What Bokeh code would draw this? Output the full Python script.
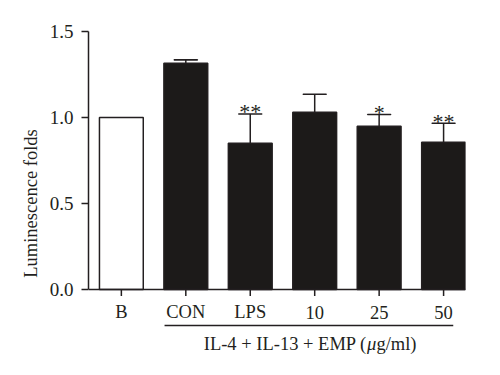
from bokeh.plotting import figure
from bokeh.models import Range1d, SingleIntervalTicker, NumeralTickFormatter, ColumnDataSource
from bokeh.core.properties import value
from bokeh.embed import file_html
from bokeh.resources import INLINE

categories = ["B", "CON", "LPS", "10", "25", "50"]
means = [1.0, 1.316, 0.851, 1.031, 0.949, 0.856]
errors = [0.0, 0.019, 0.170, 0.104, 0.068, 0.111]
stars = ["", "", "**", "", "*", "**"]
fills = ["white", "#1c1a19", "#1c1a19", "#1c1a19", "#1c1a19", "#1c1a19"]
group_label_parts = ["IL-4 + IL-13 + EMP (", "\u03bc", "g/ml)"]

FONT = "Liberation Serif"
INK = "#231f20"
FS = "18.5px"

xs = list(range(len(categories)))
upper = [m + e for m, e in zip(means, errors)]
src = ColumnDataSource(dict(x=xs, top=means, upper=upper, fill=fills, stars=stars, cat=categories))

p = figure(width=500, height=375, output_backend="svg", toolbar_location=None,
           x_axis_type=None, x_range=Range1d(-0.51, 5.34), y_range=Range1d(-0.5, 1.5),
           min_border_left=88, min_border_right=35, min_border_top=31, min_border_bottom=0)
p.outline_line_color = None
p.grid.visible = False
p.background_fill_color = "white"

# bars
p.vbar(x="x", top="top", bottom=0, width=0.68, source=src, fill_color="fill",
       line_color=INK, line_width=1.5)

# error bars (upper only)
err_src = ColumnDataSource(dict(x=[x for x, e in zip(xs, errors) if e > 0],
                                top=[m for m, e in zip(means, errors) if e > 0],
                                upper=[u for u, e in zip(upper, errors) if e > 0]))
p.segment(x0="x", y0="top", x1="x", y1="upper", source=err_src, line_color=INK, line_width=1.5)
p.rect(x="x", y="upper", width=0.36, height=0.0001, source=err_src, line_color=INK, line_width=1.5,
       fill_color=None)

# significance stars
p.text(x="x", y="upper", text="stars", source=src, text_align="center", text_baseline="middle",
       y_offset=-2, text_font=value(FONT), text_font_size="22px", text_color=INK)

# x baseline and ticks
p.segment(x0=[-0.51], y0=[0], x1=[5.34], y1=[0], line_color=INK, line_width=1.5)
p.segment(x0="x", y0=0, x1="x", y1=-0.038, source=src, line_color=INK, line_width=1.5)
p.text(x="x", y=-0.132, text="cat", source=src, text_align="center", text_baseline="middle",
       text_font=value(FONT), text_font_size=FS, text_color=INK)

# group bracket & label (italic mu)
p.segment(x0=[0.67], y0=[-0.209], x1=[5.15], y1=[-0.209], line_color=INK, line_width=1.5)
ax_mu = 3.81
p.text(x=[ax_mu], y=[-0.315], text=[group_label_parts[0]], text_align="right", text_baseline="middle",
       text_font=value(FONT), text_font_size=FS, text_color=INK)
p.text(x=[ax_mu], y=[-0.315], text=[group_label_parts[1]], text_align="left", text_baseline="middle",
       text_font=value(FONT), text_font_size=FS, text_font_style="italic", text_color=INK)
p.text(x=[ax_mu], y=[-0.315], text=[group_label_parts[2]], text_align="left", text_baseline="middle",
       x_offset=9.5, text_font=value(FONT), text_font_size=FS, text_color=INK)

# y axis
ax = p.yaxis[0]
ax.bounds = (0, 1.5)
ax.ticker = SingleIntervalTicker(interval=0.5)
ax.formatter = NumeralTickFormatter(format="0.0")
ax.minor_tick_line_color = None
ax.major_tick_out = 7
ax.major_tick_in = 0
ax.axis_line_width = 1.5
ax.major_tick_line_width = 1.5
ax.axis_line_color = INK
ax.major_tick_line_color = INK
ax.major_label_text_font = FONT
ax.major_label_text_font_size = "19px"
ax.major_label_text_color = INK
ax.major_label_standoff = 8
ax.axis_label = "Luminescence folds"
ax.axis_label_text_font = FONT
ax.axis_label_text_font_size = FS
ax.axis_label_text_font_style = "normal"
ax.axis_label_text_color = INK
ax.axis_label_standoff = 6

open("out.html", "w").write(file_html(p, INLINE))
